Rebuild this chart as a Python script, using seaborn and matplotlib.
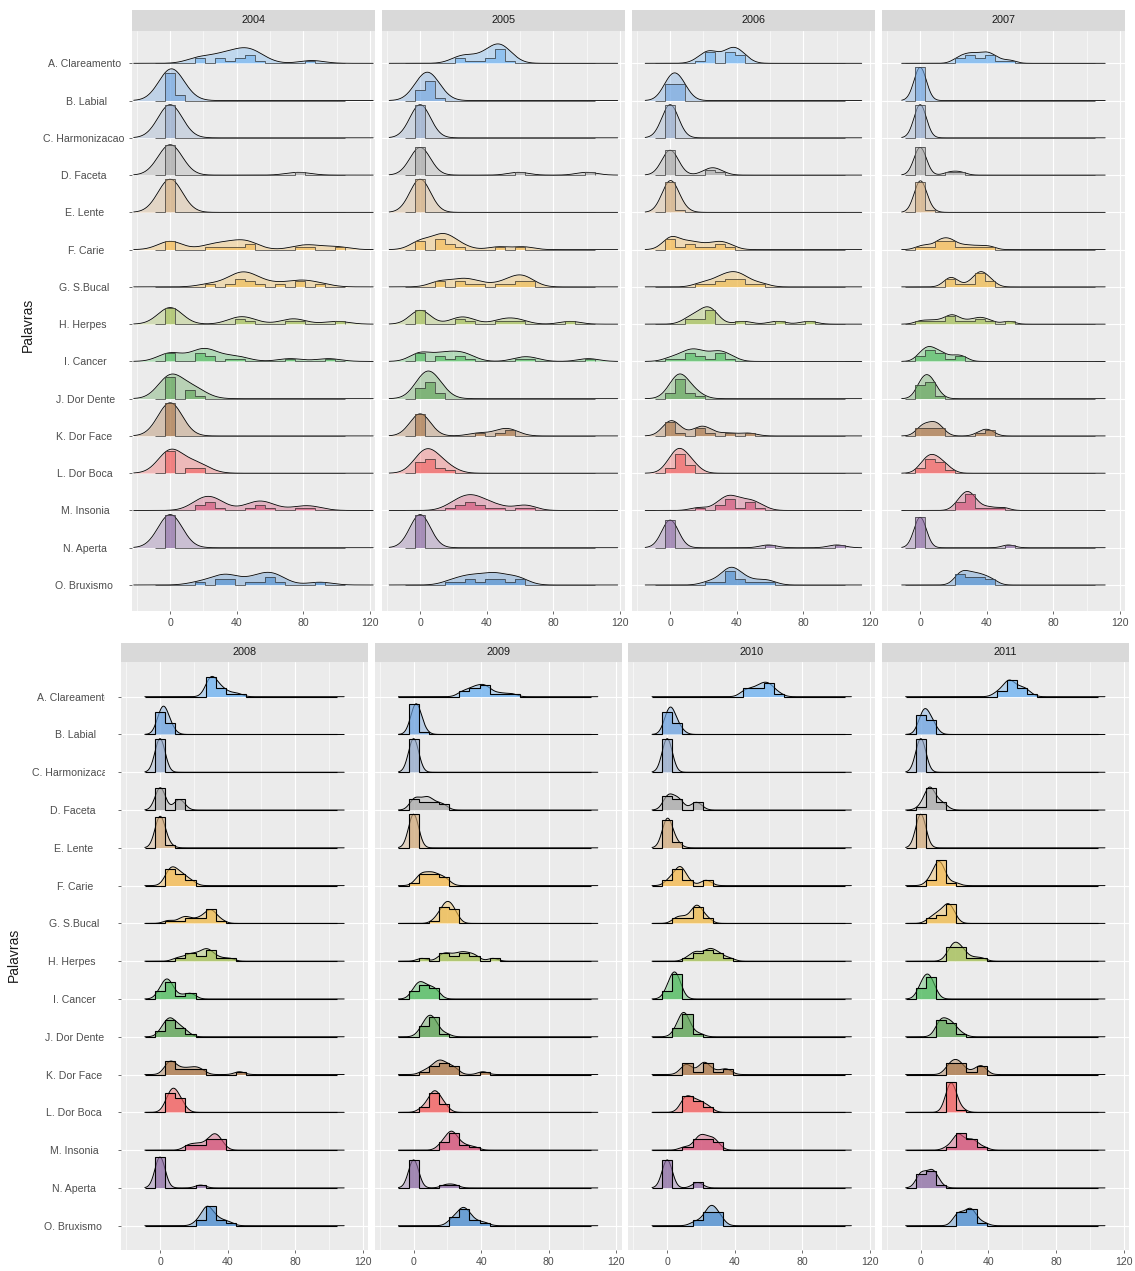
import numpy as np
import matplotlib
matplotlib.use("Agg")
import matplotlib.pyplot as plt
from matplotlib.transforms import Bbox, TransformedBbox
import seaborn as sns

# Keywords (ridges, top to bottom) and their fill colours
palavras = ["A. Clareamento", "B. Labial", "C. Harmonizacao", "D. Faceta", "E. Lente",
            "F. Carie", "G. S.Bucal", "H. Herpes", "I. Cancer", "J. Dor Dente",
            "K. Dor Face", "L. Dor Boca", "M. Insonia", "N. Aperta", "O. Bruxismo"]
cores = ["#6FB3F2", "#6FA4E0", "#94AACB", "#A8A8A8", "#D2AC7E",
         "#F5B94E", "#EFBA4C", "#A3BE55", "#4DBA5C", "#5AA152",
         "#A87445", "#F25C5C", "#D24D74", "#8E6EA5", "#4A8CCF"]

anos_topo = ["2004", "2005", "2006", "2007"]
anos_base = ["2008", "2009", "2010", "2011"]
bw_topo = [7.3, 6.2, 5.0, 3.7]
bw_base = [3.0, 3.0, 3.0, 3.0]

# monthly search interest (0-100), one list of 12 months per keyword
buscas_2004 = [
    [16, 19, 29, 31, 36, 41, 43, 46, 48, 50, 55, 85],
    [0, 0, 0, 0, 0, 0, 0, 0, 0, 0, 5, 7],
    [0, 0, 0, 0, 0, 0, 0, 0, 0, 0, 0, 0],
    [0, 0, 0, 0, 0, 0, 0, 0, 0, 0, 0, 77],
    [0, 0, 0, 0, 0, 0, 0, 0, 0, 0, 0, 0],
    [0, 0, 0, 23, 30, 36, 42, 46, 48, 78, 86, 100],
    [24, 36, 40, 42, 44, 47, 49, 55, 66, 77, 80, 90],
    [0, 0, 0, 0, 0, 0, 40, 42, 48, 72, 76, 100],
    [0, 0, 0, 16, 18, 20, 23, 25, 36, 42, 72, 95],
    [0, 0, 0, 0, 0, 0, 0, 0, 11, 12, 14, 18],
    [0, 0, 0, 0, 0, 0, 0, 0, 0, 0, 0, 0],
    [0, 0, 0, 0, 0, 0, 0, 0, 11, 13, 17, 19],
    [17, 19, 22, 24, 26, 30, 48, 53, 55, 60, 78, 86],
    [0, 0, 0, 0, 0, 0, 0, 0, 0, 0, 0, 0],
    [18, 29, 31, 35, 37, 48, 53, 58, 60, 62, 66, 90],
]
buscas_2005 = [
    [23, 25, 30, 36, 41, 43, 46, 47, 48, 49, 50, 54],
    [0, 0, 0, 0, 4, 5, 5, 6, 6, 7, 8, 12],
    [0, 0, 0, 0, 0, 0, 0, 0, 0, 0, 0, 0],
    [0, 0, 0, 0, 0, 0, 0, 0, 0, 0, 59, 100],
    [0, 0, 0, 0, 0, 0, 0, 0, 0, 0, 0, 0],
    [0, 0, 1, 10, 12, 13, 14, 17, 19, 25, 47, 62],
    [11, 13, 23, 25, 30, 36, 48, 55, 58, 60, 63, 66],
    [0, 0, 0, 0, 0, 22, 25, 30, 48, 54, 60, 90],
    [0, 0, 0, 11, 13, 18, 23, 25, 30, 60, 67, 101],
    [0, 0, 1, 2, 4, 5, 6, 6, 7, 8, 11, 13],
    [0, 0, 0, 0, 0, 0, 0, 0, 35, 48, 52, 55],
    [0, 0, 0, 1, 4, 5, 6, 7, 8, 11, 14, 18],
    [18, 23, 25, 28, 30, 32, 35, 37, 42, 48, 61, 65],
    [0, 0, 0, 0, 0, 0, 0, 0, 0, 0, 0, 0],
    [18, 24, 29, 31, 36, 40, 43, 46, 48, 54, 58, 61],
]
buscas_2006 = [
    [18, 22, 23, 25, 26, 34, 35, 37, 38, 40, 42, 44],
    [0, 0, 0, 0, 0, 0, 4, 5, 5, 6, 7, 8],
    [0, 0, 0, 0, 0, 0, 0, 0, 0, 0, 0, 0],
    [0, 0, 0, 0, 0, 0, 0, 0, 0, 23, 25, 29],
    [0, 0, 0, 0, 0, 0, 0, 0, 0, 0, 0, 6],
    [0, 0, 0, 1, 6, 11, 13, 18, 24, 29, 31, 36],
    [18, 24, 29, 31, 34, 36, 38, 40, 42, 44, 48, 55],
    [11, 13, 17, 20, 22, 23, 24, 25, 26, 44, 64, 83],
    [0, 6, 10, 12, 14, 17, 19, 24, 28, 30, 32, 37],
    [0, 1, 4, 5, 5, 6, 6, 7, 8, 11, 13, 17],
    [0, 0, 0, 0, 1, 6, 17, 18, 20, 24, 35, 47],
    [0, 1, 3, 4, 5, 5, 6, 7, 8, 11, 13, 14],
    [17, 29, 31, 34, 36, 37, 38, 42, 46, 48, 50, 55],
    [0, 0, 0, 0, 0, 0, 0, 0, 0, 0, 59, 100],
    [23, 30, 34, 35, 36, 37, 38, 41, 43, 48, 55, 60],
]
buscas_2007 = [
    [22, 25, 28, 30, 32, 35, 37, 40, 41, 43, 47, 54],
    [0, 0, 0, 0, 0, 0, 0, 0, 0, 0, 0, 0],
    [0, 0, 0, 0, 0, 0, 0, 0, 0, 0, 0, 0],
    [0, 0, 0, 0, 0, 0, 0, 0, 0, 0, 18, 24],
    [0, 0, 0, 0, 0, 0, 0, 0, 0, 0, 0, 5],
    [0, 5, 11, 12, 14, 17, 18, 20, 25, 30, 36, 42],
    [16, 18, 19, 22, 30, 34, 35, 36, 37, 38, 41, 43],
    [0, 6, 12, 17, 19, 20, 24, 30, 35, 37, 42, 53],
    [0, 1, 4, 5, 6, 7, 10, 12, 14, 19, 23, 26],
    [0, 0, 1, 2, 2, 4, 5, 6, 6, 7, 8, 11],
    [0, 1, 2, 5, 7, 8, 10, 11, 13, 36, 40, 42],
    [0, 2, 4, 5, 6, 7, 8, 10, 11, 13, 14, 18],
    [22, 24, 26, 27, 28, 29, 30, 31, 32, 36, 42, 50],
    [0, 0, 0, 0, 0, 0, 0, 0, 0, 0, 0, 53],
    [22, 24, 25, 26, 28, 30, 32, 34, 36, 38, 41, 44],
]
buscas_2008 = [
    [28, 29, 30, 30, 31, 31, 32, 34, 36, 37, 41, 46],
    [0, 0, 1, 1, 2, 2, 2, 2, 3, 4, 5, 7],
    [0, 0, 0, 0, 0, 0, 0, 0, 0, 0, 0, 0],
    [0, 0, 0, 0, 0, 0, 0, 1, 10, 11, 12, 13],
    [0, 0, 0, 0, 0, 0, 0, 0, 0, 0, 0, 5],
    [4, 5, 6, 7, 7, 8, 10, 11, 12, 14, 16, 19],
    [5, 12, 15, 17, 22, 25, 28, 29, 30, 31, 32, 36],
    [10, 15, 18, 20, 23, 25, 27, 28, 29, 31, 35, 41],
    [0, 1, 2, 4, 4, 5, 5, 6, 7, 12, 17, 19],
    [1, 2, 4, 5, 6, 6, 7, 8, 10, 12, 13, 16],
    [4, 5, 6, 7, 8, 11, 14, 17, 20, 22, 25, 47],
    [4, 5, 6, 7, 7, 8, 8, 9, 10, 11, 12, 14],
    [16, 19, 22, 25, 28, 30, 31, 32, 33, 34, 35, 37],
    [0, 0, 0, 0, 0, 0, 0, 0, 0, 0, 0, 24],
    [22, 25, 27, 27, 28, 28, 29, 30, 32, 34, 37, 41],
]
buscas_2009 = [
    [28, 31, 34, 36, 37, 40, 41, 42, 44, 47, 52, 58],
    [0, 0, 1, 1, 1, 2, 2, 2, 2, 2, 2, 6],
    [0, 0, 0, 0, 0, 0, 0, 0, 0, 0, 0, 0],
    [0, 0, 1, 2, 5, 7, 8, 9, 10, 13, 16, 18],
    [0, 0, 0, 0, 0, 0, 0, 0, 0, 0, 0, 0],
    [2, 4, 5, 6, 8, 10, 11, 12, 14, 16, 18, 20],
    [13, 16, 17, 18, 19, 20, 20, 21, 22, 23, 24, 25],
    [5, 16, 18, 20, 23, 26, 28, 30, 32, 35, 37, 47],
    [0, 1, 2, 4, 4, 5, 6, 8, 10, 11, 13, 14],
    [4, 6, 7, 8, 9, 10, 10, 11, 12, 13, 14, 19],
    [6, 10, 12, 14, 15, 16, 17, 19, 21, 23, 25, 41],
    [5, 8, 10, 11, 12, 12, 13, 13, 14, 16, 17, 19],
    [16, 18, 20, 21, 22, 23, 23, 24, 25, 28, 31, 36],
    [0, 0, 0, 0, 0, 0, 0, 0, 0, 0, 19, 24],
    [22, 24, 26, 28, 29, 29, 30, 31, 32, 34, 37, 42],
]
buscas_2010 = [
    [45, 47, 50, 52, 54, 56, 57, 58, 60, 61, 62, 66],
    [0, 0, 1, 1, 2, 2, 2, 2, 3, 4, 6, 8],
    [0, 0, 0, 0, 0, 0, 0, 0, 0, 0, 0, 0],
    [0, 0, 0, 1, 2, 5, 6, 7, 8, 16, 17, 19],
    [0, 0, 0, 0, 0, 0, 0, 0, 0, 0, 4, 6],
    [1, 2, 5, 7, 7, 8, 8, 8, 10, 13, 22, 24],
    [5, 7, 10, 13, 16, 17, 17, 18, 18, 19, 22, 24],
    [12, 16, 17, 18, 22, 24, 25, 26, 28, 30, 32, 37],
    [0, 1, 2, 3, 4, 4, 5, 5, 5, 6, 6, 8],
    [5, 7, 8, 9, 9, 10, 10, 11, 11, 12, 14, 19],
    [9, 11, 12, 13, 19, 21, 22, 23, 24, 29, 34, 36],
    [9, 10, 11, 12, 12, 14, 16, 17, 19, 20, 23, 25],
    [10, 16, 18, 19, 20, 21, 22, 24, 26, 27, 28, 30],
    [0, 0, 0, 0, 0, 0, 0, 0, 0, 0, 17, 19],
    [16, 20, 23, 24, 25, 26, 26, 27, 28, 29, 31, 32],
]
buscas_2011 = [
    [45, 48, 51, 51, 52, 53, 54, 55, 58, 60, 61, 64],
    [0, 1, 2, 2, 2, 2, 2, 3, 5, 6, 7, 8],
    [0, 0, 0, 0, 0, 0, 0, 0, 0, 0, 0, 0],
    [0, 4, 4, 5, 5, 5, 6, 6, 7, 10, 12, 14],
    [0, 0, 0, 0, 0, 0, 0, 0, 0, 0, 0, 0],
    [5, 7, 9, 10, 10, 11, 11, 11, 12, 13, 14, 20],
    [5, 8, 10, 11, 13, 15, 16, 16, 17, 17, 18, 20],
    [16, 18, 19, 20, 20, 21, 22, 24, 25, 26, 31, 36],
    [0, 0, 1, 2, 3, 4, 4, 5, 5, 6, 7, 8],
    [10, 11, 12, 12, 13, 14, 16, 17, 18, 19, 20, 24],
    [16, 17, 19, 20, 21, 22, 24, 25, 31, 35, 36, 37],
    [16, 17, 17, 17, 18, 18, 18, 18, 19, 19, 20, 24],
    [16, 21, 21, 22, 22, 23, 25, 28, 30, 31, 32, 37],
    [0, 0, 0, 0, 1, 5, 6, 7, 7, 7, 8, 11],
    [21, 22, 22, 23, 26, 28, 29, 29, 30, 31, 32, 37],
]

BORDAS = np.arange(-9, 106, 6)   # histogram bins, width 6
ESCALA = 0.89                     # tallest ridge height, in rows

sns.set_theme(style="darkgrid", rc={"axes.facecolor": "#EBEBEB", "grid.color": "white",
                                    "axes.edgecolor": "none", "figure.facecolor": "white"})
plt.rcParams["font.family"] = ["Liberation Sans", "DejaVu Sans"]

W, H = 1135, 1271
fig = plt.figure(figsize=(W / 100, H / 100), dpi=100)


def caixa(l, t, r, b):
    return [l / W, 1 - b / H, (r - l) / W, (b - t) / H]


def densidade(valores, grade, bw):
    v = np.asarray(valores, float)
    z = (grade[:, None] - v[None, :]) / bw
    return np.exp(-0.5 * z ** 2).sum(axis=1) / (len(v) * bw * np.sqrt(2 * np.pi))


def desenha_painel(ax, dados, bw, estilo):
    n = len(palavras)
    grade = np.linspace(-3 * bw, 100 + 3 * bw, 700)
    dens = [densidade(v, grade, bw) for v in dados]
    dmax = max(d.max() for d in dens)
    conts = [np.histogram(v, bins=BORDAS)[0] for v in dados]
    hmax = max(c.max() for c in conts)
    for i, (d, cor) in enumerate(zip(dens, cores)):
        base = n - 1 - i
        topo = base + ESCALA * d / dmax
        ax.fill_between(grade, base, topo, color=cor, alpha=estilo["a_dens"], lw=0, zorder=2 + i * 0.01)
        ax.plot(grade, topo, color="black", lw=estilo["lw_dens"], zorder=2.005 + i * 0.01)
    for i, (c, cor) in enumerate(zip(conts, cores)):
        base = n - 1 - i
        alt = base + ESCALA * c / hmax
        ax.stairs(alt, BORDAS, baseline=base, fill=True, facecolor=cor, alpha=estilo["a_hist"],
                  lw=0, zorder=3 + i * 0.01)
        ax.stairs(alt, BORDAS, baseline=base, fill=False, color=estilo["cor_hist"],
                  lw=estilo["lw_hist"], zorder=3.005 + i * 0.01)


blocos = [
    dict(anos=anos_topo, dados=[buscas_2004, buscas_2005, buscas_2006, buscas_2007], bws=bw_topo,
         esq=131.7, passo=250.0, larg=243.5, faixa=10, topo=30.7, base=611,
         ylim=(-0.698, 14.875), tit=(28, 325), corte=None,
         estilo=dict(a_dens=0.35, a_hist=0.6, lw_dens=0.6, lw_hist=0.5, cor_hist="#333333")),
    dict(anos=anos_base, dados=[buscas_2008, buscas_2009, buscas_2010, buscas_2011], bws=bw_base,
         esq=121.0, passo=253.6, larg=247.0, faixa=642.7, topo=662, base=1250,
         ylim=(-0.643, 14.918), tit=(14, 955), corte=105,
         estilo=dict(a_dens=0.4, a_hist=0.65, lw_dens=0.7, lw_hist=0.8, cor_hist="black")),
]

for bl in blocos:
    for k, (ano, dados, bw) in enumerate(zip(bl["anos"], bl["dados"], bl["bws"])):
        l = bl["esq"] + k * bl["passo"]
        r = l + bl["larg"]
        ax = fig.add_axes(caixa(l, bl["topo"], r, bl["base"]))
        desenha_painel(ax, dados, bw, bl["estilo"])
        ax.set_xlim(-23.1, 123.1)
        ax.set_ylim(*bl["ylim"])
        ax.set_xticks([0, 40, 80, 120])
        ax.set_xticks([-20, 20, 60, 100], minor=True)
        ax.set_yticks(range(len(palavras)))
        ax.grid(which="major", color="white", lw=0.8)
        ax.grid(which="minor", axis="x", color="white", lw=0.4)
        ax.grid(which="minor", axis="y", visible=False)
        ax.set_axisbelow(True)
        for s in ax.spines.values():
            s.set_visible(False)
        ax.tick_params(which="minor", length=0)
        ax.tick_params(which="major", length=2, width=0.5, color="#333333", labelsize=7.6,
                       labelcolor="#4D4D4D", bottom=True, left=True, direction="out")
        ax.tick_params(axis="x", pad=3)
        ax.tick_params(axis="y", pad=3.6)
        if k == 0:
            ax.set_yticklabels([p.ljust(15) for p in palavras][::-1])
            if bl["corte"] is not None:
                clip = TransformedBbox(Bbox.from_extents(0, 0, bl["corte"] / 100, H / 100),
                                       fig.dpi_scale_trans)
                for t in ax.get_yticklabels():
                    t.set_clip_on(True)
                    t.set_clip_box(clip)
        else:
            ax.tick_params(axis="y", left=False, labelleft=False)

        sx = fig.add_axes(caixa(l, bl["faixa"], r, bl["topo"]))
        sx.set_facecolor("#D9D9D9")
        sx.set_xticks([])
        sx.set_yticks([])
        sx.grid(False)
        for s in sx.spines.values():
            s.set_visible(False)
        sx.text(0.5, 0.5, ano, ha="center", va="center", fontsize=7.8, color="#1A1A1A",
                transform=sx.transAxes)

    fig.text(bl["tit"][0] / W, 1 - bl["tit"][1] / H, "Palavras", rotation=90,
             ha="center", va="center", fontsize=10, color="#1A1A1A")

fig.savefig("out.png", dpi=100)
